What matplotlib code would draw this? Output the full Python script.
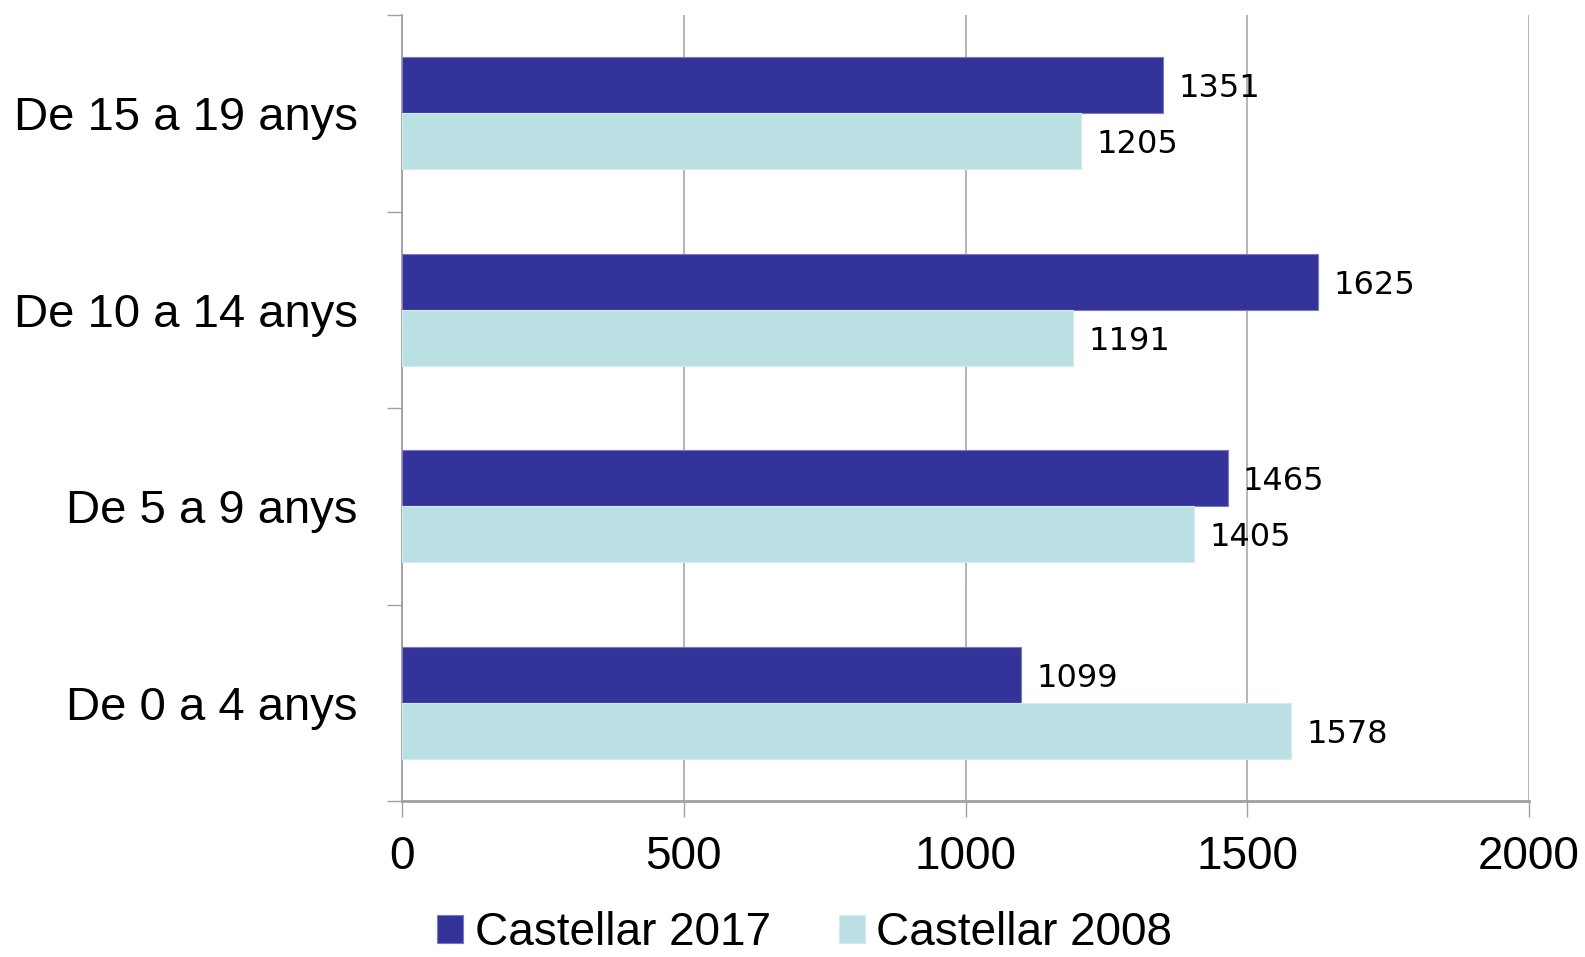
import matplotlib
matplotlib.use("Agg")
import matplotlib.pyplot as plt
from matplotlib.patches import Patch
import numpy as np

categories = ["De 0 a 4 anys", "De 5 a 9 anys", "De 10 a 14 anys", "De 15 a 19 anys"]
series_names = ["Castellar 2017", "Castellar 2008"]
values_2017 = [1099, 1465, 1625, 1351]
values_2008 = [1578, 1405, 1191, 1205]
x_ticks = [0, 500, 1000, 1500, 2000]

colors = ["#333399", "#BBE0E3"]

fig = plt.figure(figsize=(15.85, 9.57), dpi=100)
ax = fig.add_axes([402/1585, 156/957, 1127/1585, 786/957])

y = np.arange(len(categories))
h = 0.2857
b1 = ax.barh(y + h/2, values_2017, height=h, color=colors[0], edgecolor="#7a7ac4", linewidth=0.8, zorder=3)
b2 = ax.barh(y - h/2, values_2008, height=h, color=colors[1], edgecolor="#d0ecee", linewidth=0.8, zorder=3)

for bars in (b1, b2):
    labels = ax.bar_label(bars, padding=11, fontsize=23, family="DejaVu Sans", color="black")
    for t in labels:
        t.set_va("center_baseline")

ax.set_xlim(0, 2000)
ax.set_ylim(-0.5, len(categories) - 0.5)
ax.set_xticks(x_ticks)
ax.set_xticklabels([str(t) for t in x_ticks], fontsize=33, family="Liberation Sans")
ax.tick_params(axis="x", length=11.5, width=1.0, color="#A0A0A0", pad=13)

ax.set_yticks(y)
ax.set_yticklabels(categories, fontsize=34, family="Liberation Sans")
ax.tick_params(axis="y", which="major", length=0, pad=32)
ax.set_yticks(np.arange(-0.5, len(categories), 1.0), minor=True)
ax.tick_params(axis="y", which="minor", length=11, width=1.0, color="#A0A0A0")

ax.grid(axis="x", color="#A0A0A0", linewidth=1.1, zorder=0)
ax.set_axisbelow(True)
for s in ["top", "right"]:
    ax.spines[s].set_visible(False)
ax.spines["left"].set_color("#A0A0A0")
ax.spines["left"].set_linewidth(1.3)
ax.spines["bottom"].set_color("#A0A0A0")
ax.spines["bottom"].set_linewidth(2.0)

handles = [Patch(facecolor=colors[0], edgecolor="#7a7ac4", linewidth=0.8),
           Patch(facecolor=colors[1], edgecolor="#d0ecee", linewidth=0.8)]
fig.legend(handles, series_names, loc="lower center", bbox_to_anchor=(805/1585, 0.002),
           ncol=2, frameon=False, prop={"family": "Liberation Sans", "size": 33},
           handlelength=0.56, handleheight=0.56, handletextpad=0.25, columnspacing=1.5,
           borderpad=0, borderaxespad=0)

fig.savefig("out.png", dpi=100)
